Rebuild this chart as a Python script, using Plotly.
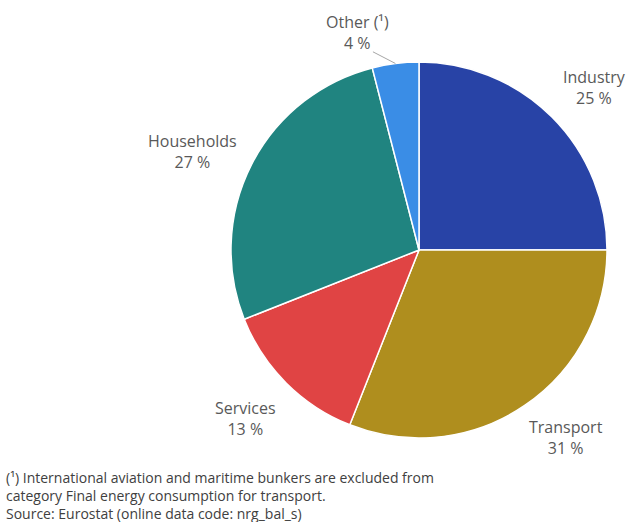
import math
import plotly.graph_objects as go

# Final energy consumption by sector (share of total, %)
sectors = ["Industry", "Transport", "Services", "Households", "Other (¹)"]
shares = [25, 31, 13, 27, 4]
colors = ["#2843A6", "#AF8E1E", "#E04444", "#208480", "#3A8DE6"]

footnote = [
    "(¹) International aviation and maritime bunkers are excluded from",
    "category Final energy consumption for transport.",
    "Source: Eurostat (online data code: nrg_bal_s)",
]

W, H = 627, 522
# plot area (pixels) holding the pie
L, R, T, B = 231, 20, 62, 84
PW, PH = W - L - R, H - T - B
CX, CY, RAD = L + PW / 2, T + PH / 2, PW / 2

# label placement: radial factor plus small pixel nudges per sector
LABEL_K = 1.28
nudges = {
    "Industry": (5, 8),
    "Transport": (12, -12),
    "Services": (-3, -2),
    "Households": (-12, 11),
}


def to_paper(px, py):
    return (px - L) / PW, (H - B - py) / PH


fig = go.Figure(
    go.Pie(
        labels=sectors,
        values=shares,
        sort=False,
        direction="clockwise",
        rotation=0,
        marker=dict(colors=colors, line=dict(color="white", width=1.5)),
        textinfo="none",
        hoverinfo="label+percent",
        showlegend=False,
    )
)

label_font = dict(family="Open Sans", size=16, color="#595959")
annotations = []
shapes = []
total = sum(shares)
cum = 0
for name, v in zip(sectors, shares):
    mid = (cum + v / 2) / total * 2 * math.pi
    cum += v
    if name.startswith("Other"):
        # thin slice: label sits up-left, joined by a leader line
        ang = mid - math.radians(8.5)
        px = CX + RAD * 1.2 * math.sin(ang)
        py = CY - RAD * 1.2 * math.cos(ang)
        ex, ey = CX + RAD * math.sin(mid), CY - RAD * math.cos(mid)
        x0, y0 = to_paper(px + 15, py + 19)
        x1, y1 = to_paper(ex, ey)
        shapes.append(dict(type="line", xref="paper", yref="paper",
                           x0=x0, y0=y0, x1=x1, y1=y1,
                           line=dict(color="#A6A6A6", width=1)))
    else:
        dx, dy = nudges.get(name, (0, 0))
        px = CX + RAD * LABEL_K * math.sin(mid) + dx
        py = CY - RAD * LABEL_K * math.cos(mid) + dy
    x, y = to_paper(px, py)
    annotations.append(dict(
        x=x, y=y, xref="paper", yref="paper",
        text=f"{name}<br>{v} %", showarrow=False,
        font=label_font, align="center",
        xanchor="center", yanchor="middle",
    ))

fx, fy = to_paper(4, 466)
annotations.append(dict(
    x=fx, y=fy, xref="paper", yref="paper", xanchor="left", yanchor="top",
    text="<br>".join(footnote), showarrow=False, align="left",
    font=dict(family="Open Sans", size=14, color="#404040"),
))

fig.update_layout(
    width=W, height=H,
    margin=dict(l=L, r=R, t=T, b=B),
    paper_bgcolor="white",
    plot_bgcolor="white",
    annotations=annotations,
    shapes=shapes,
)

fig.write_html("out.html")
